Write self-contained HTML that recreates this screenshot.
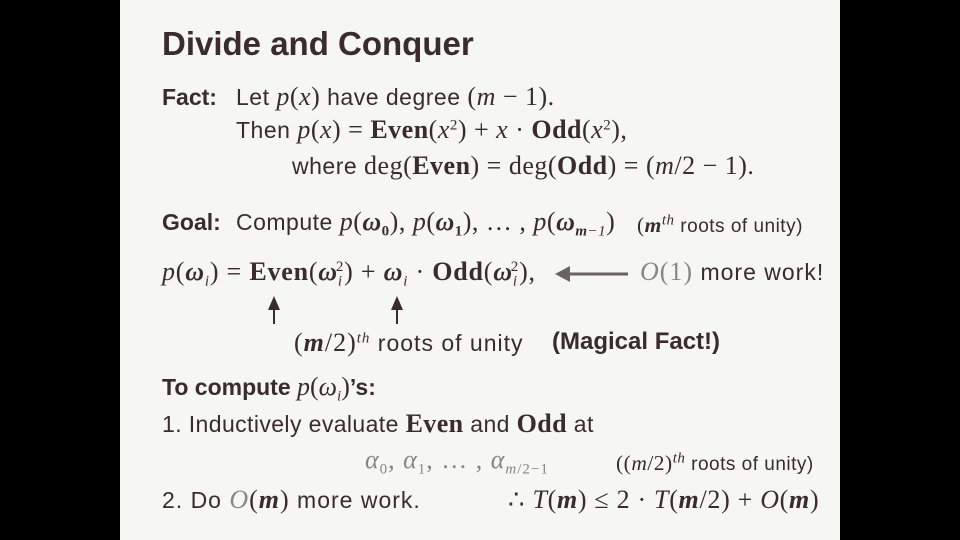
<!DOCTYPE html>
<html><head><meta charset="utf-8"><style>
body{margin:0;width:960px;height:540px;background:#000;position:relative;overflow:hidden}
#p{position:absolute;left:120px;top:0;width:720px;height:540px;background:#f6f6f2}
.l{position:absolute;white-space:nowrap;font-family:"Liberation Sans",sans-serif;color:#3a2c2c;font-size:23px;line-height:26px}
.m{font-family:"Liberation Serif",serif;font-style:italic;font-size:1.13em}
.r{font-family:"Liberation Serif",serif;font-style:normal;font-size:1.13em}
.b{font-family:"Liberation Serif",serif;font-weight:bold;font-style:normal;font-size:1.13em}
sub .m,sub .r,sup .m,sup .r,sub.m,sub.r,sub.b,sup.m,sup.r{font-size:15px}
.g{color:#8a8585}
sub,sup{font-size:15px;line-height:0}
.s{font-size:19px;letter-spacing:0.5px}
.w{letter-spacing:0.5px}
</style></head><body><div id="p"></div>
<div class="l" style="left:162px;top:26px;font-size:33px;line-height:36px;font-weight:bold">Divide and Conquer</div>
<div class="l" style="left:162px;top:84px;font-weight:bold">Fact:</div>
<div class="l w" style="left:236px;top:84px">Let <span class="m">p</span><span class="r">(</span><span class="m">x</span><span class="r">)</span> have degree <span class="r">(</span><span class="m">m</span><span class="r"> − 1).</span></div>
<div class="l w" style="left:236px;top:117px">Then <span class="m">p</span><span class="r">(</span><span class="m">x</span><span class="r">) = </span><span class="b">Even</span><span class="r">(</span><span class="m">x</span><sup class="r">2</sup><span class="r">) + </span><span class="m">x</span><span class="r"> · </span><span class="b">Odd</span><span class="r">(</span><span class="m">x</span><sup class="r">2</sup><span class="r">),</span></div>
<div class="l w" style="left:292px;top:153px">where <span class="r">deg(</span><span class="b">Even</span><span class="r">) = deg(</span><span class="b">Odd</span><span class="r">) = (</span><span class="m">m</span><span class="r">/2 − 1).</span></div>
<div class="l" style="left:162px;top:209px;font-weight:bold">Goal:</div>
<div class="l w" style="left:236px;top:209px">Compute <span class="m">p</span><span class="r">(</span><span class="m"><b>ω</b></span><sub class="b">0</sub><span class="r">), </span><span class="m">p</span><span class="r">(</span><span class="m"><b>ω</b></span><sub class="b">1</sub><span class="r">), … , </span><span class="m">p</span><span class="r">(</span><span class="m"><b>ω</b></span><sub class="m"><b>m</b>−1</sub><span class="r">)</span></div>
<div class="l s" style="left:637px;top:212px"><span class="r">(</span><span class="m"><b>m</b></span><sup class="m">th</sup> roots of unity)</div>
<div class="l" style="left:162px;top:259px;letter-spacing:0.8px"><span class="m">p</span><span class="r">(</span><span class="m"><b>ω</b></span><sub class="m">i</sub><span class="r">) = </span><span class="b">Even</span><span class="r">(</span><span class="m"><b>ω</b></span><sub class="m">i</sub><sup class="r" style="margin-left:-7px">2</sup><span class="r">) + </span><span class="m"><b>ω</b></span><sub class="m">i</sub><span class="r"> · </span><span class="b">Odd</span><span class="r">(</span><span class="m"><b>ω</b></span><sub class="m">i</sub><sup class="r" style="margin-left:-7px">2</sup><span class="r">),</span></div>
<svg style="position:absolute;left:0;top:0" width="960" height="540">
<line x1="628" y1="274" x2="566" y2="274" stroke="#6a6262" stroke-width="3"/>
<polygon points="555,274 570,266 570,282" fill="#6a6262"/>
<line x1="274" y1="324" x2="274" y2="308" stroke="#3a2c2c" stroke-width="2"/>
<polygon points="274,296 268,310 280,310" fill="#3a2c2c"/>
<line x1="397" y1="324" x2="397" y2="308" stroke="#3a2c2c" stroke-width="2"/>
<polygon points="397,296 391,310 403,310" fill="#3a2c2c"/>
</svg>
<div class="l" style="left:640px;top:259px;letter-spacing:1px"><span class="m g">O</span><span class="r g">(1)</span> more work!</div>
<div class="l" style="left:294px;top:330px;letter-spacing:1px"><span class="r">(</span><span class="m"><b>m</b></span><span class="r">/2)</span><sup class="m">th</sup> roots of unity</div>
<div class="l" style="left:552px;top:329px;font-weight:bold;font-size:24px">(Magical Fact!)</div>
<div class="l" style="left:162px;top:374px;font-weight:bold">To compute <span class="m" style="font-weight:normal">p</span><span class="r" style="font-weight:normal">(</span><span class="m" style="font-weight:normal">ω</span><sub class="m" style="font-weight:normal">i</sub><span class="r" style="font-weight:normal">)</span>’s:</div>
<div class="l" style="left:162px;top:411px;letter-spacing:0.4px">1. Inductively evaluate <span class="b">Even</span> and <span class="b">Odd</span> at</div>
<div class="l g" style="left:365px;top:447px;letter-spacing:1px"><span class="m">α</span><sub class="r">0</sub><span class="r">, </span><span class="m">α</span><sub class="r">1</sub><span class="r">, … , </span><span class="m">α</span><sub class="m">m<span class="r">/2−1</span></sub></div>
<div class="l s" style="left:616px;top:450px"><span class="r">((</span><span class="m">m</span><span class="r">/2)</span><sup class="m">th</sup> roots of unity)</div>
<div class="l" style="left:162px;top:487px;letter-spacing:1px">2. Do <span class="m g">O</span><span class="r">(</span><span class="m"><b>m</b></span><span class="r">)</span> more work.</div>
<div class="l" style="left:508px;top:487px;letter-spacing:0.7px"><span class="r">∴ </span><span class="m">T</span><span class="r">(</span><span class="m"><b>m</b></span><span class="r">) ≤ 2 · </span><span class="m">T</span><span class="r">(</span><span class="m"><b>m</b></span><span class="r">/2) + </span><span class="m">O</span><span class="r">(</span><span class="m"><b>m</b></span><span class="r">)</span></div>
</body></html>
